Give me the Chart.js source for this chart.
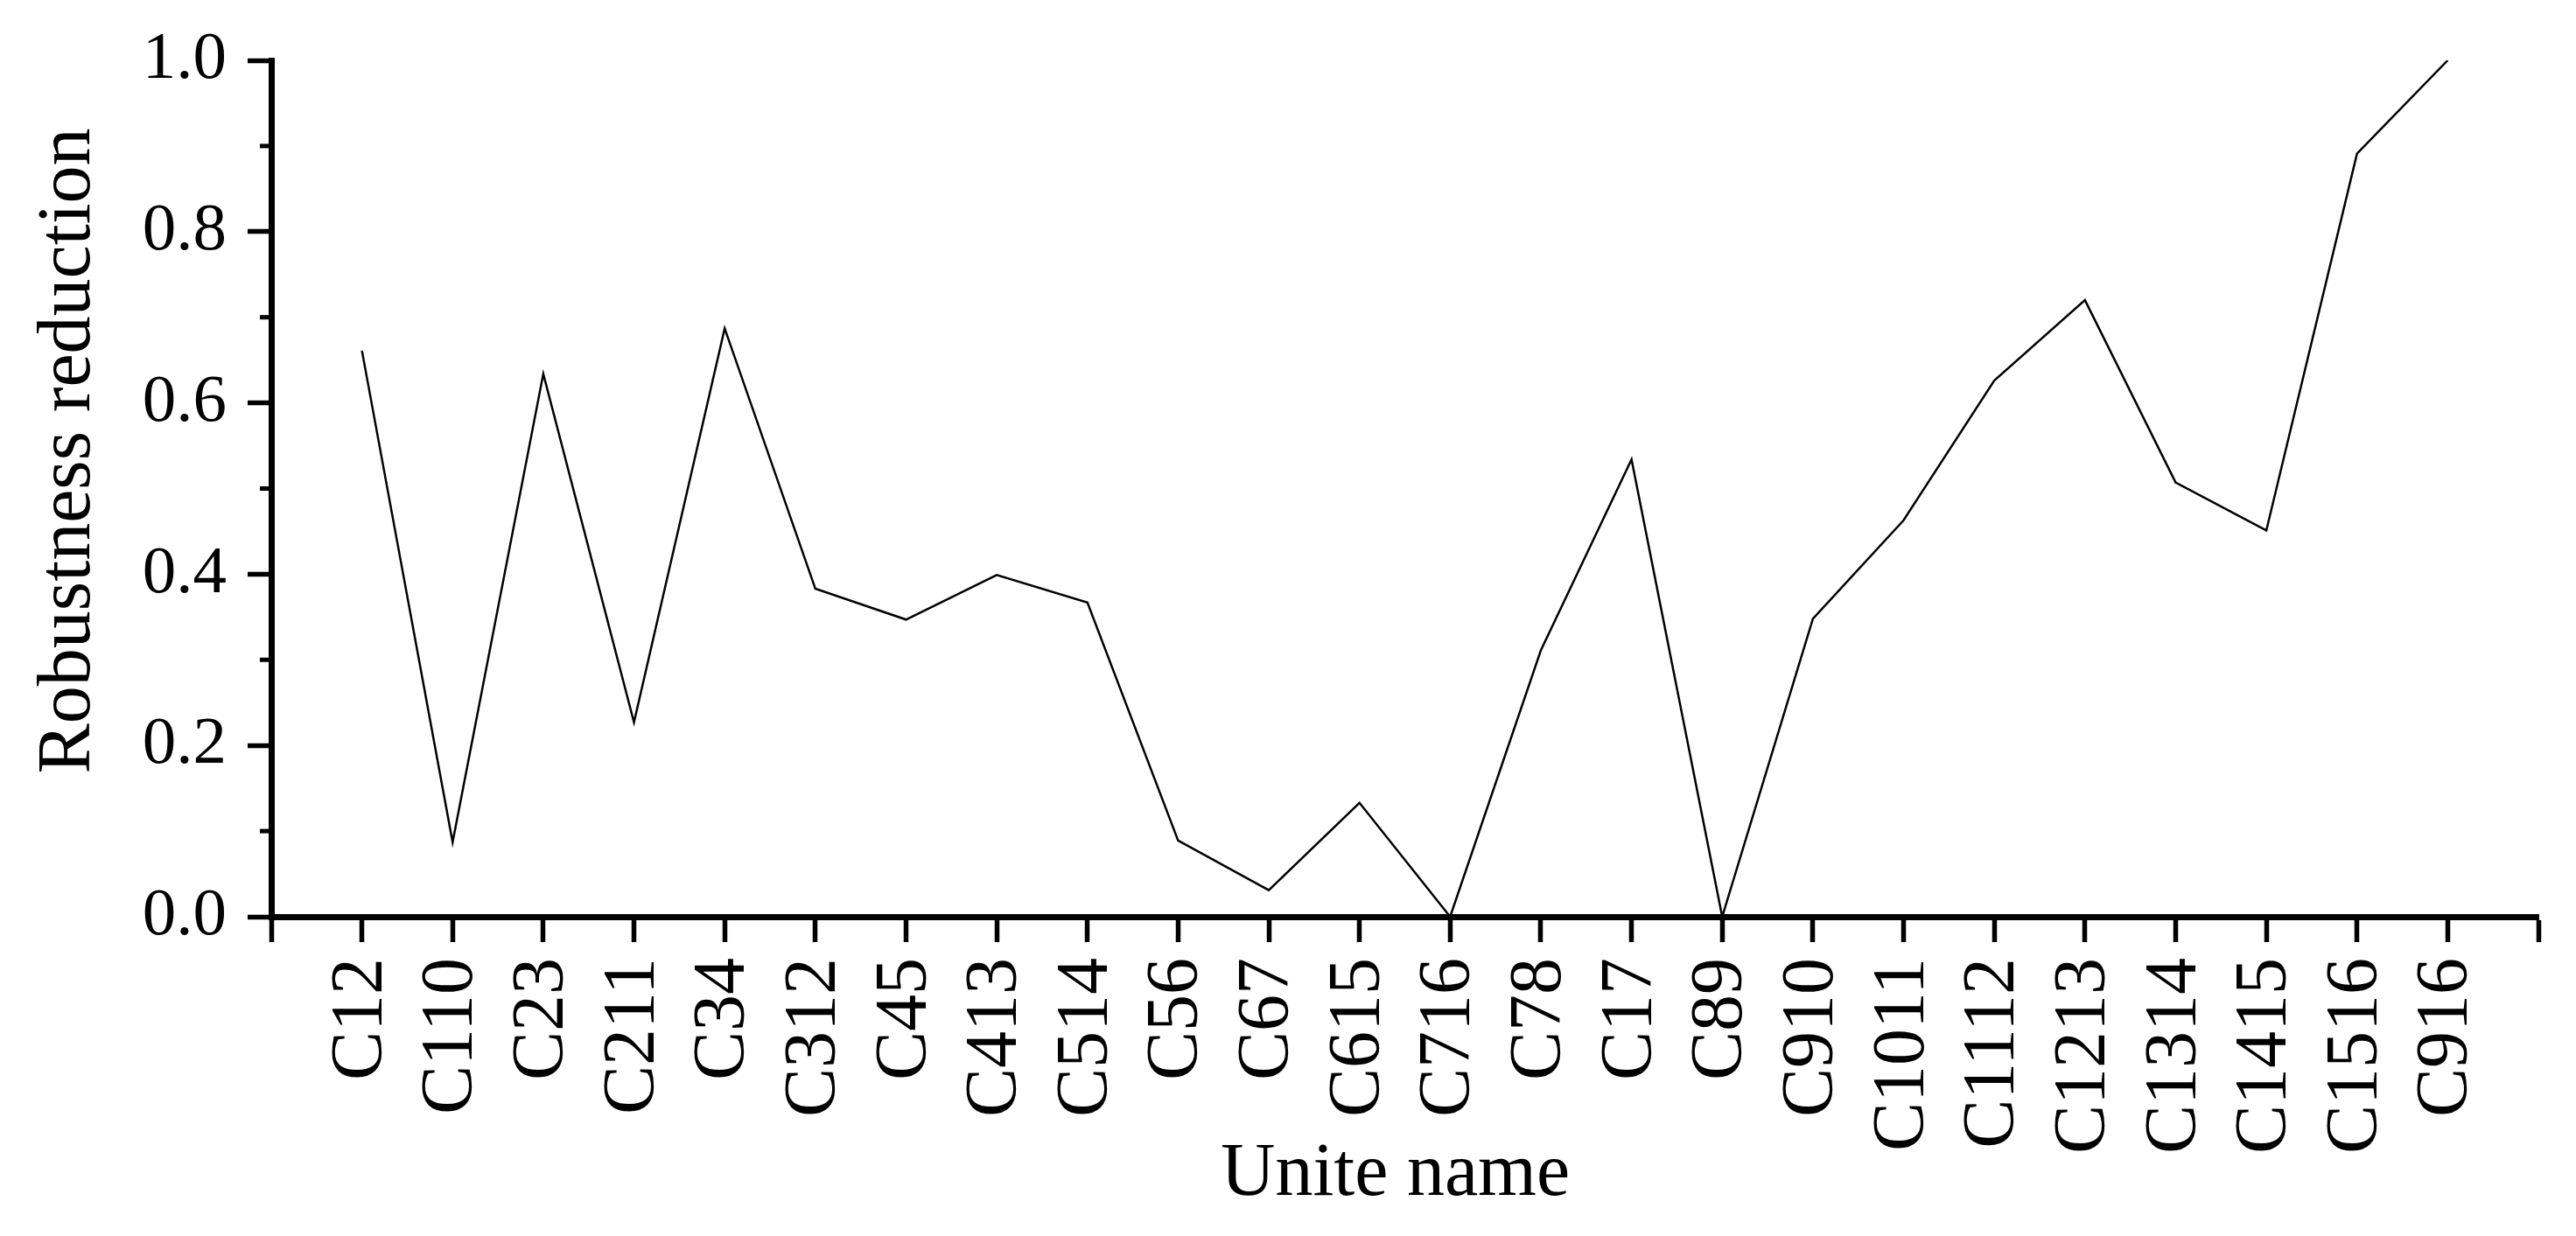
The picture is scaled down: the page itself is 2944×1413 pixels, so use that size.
<!DOCTYPE html>
<html>
<head>
<meta charset="utf-8">
<script src="https://cdn.jsdelivr.net/npm/chart.js@4.4.1/dist/chart.umd.min.js"></script>
<style>
  html, body { margin: 0; padding: 0; background: #fff; }
  #wrap { width: 2944px; height: 1413px; position: relative; }
</style>
</head>
<body>
<div id="wrap"><canvas id="chart"></canvas></div>
<script>
// Robustness reduction per unit
const units = ['C12', 'C110', 'C23', 'C211', 'C34', 'C312', 'C45', 'C413', 'C514', 'C56', 'C67', 'C615',
  'C716', 'C78', 'C17', 'C89', 'C910', 'C1011', 'C1112', 'C1213', 'C1314', 'C1415', 'C1516', 'C916'];
const robustness = [0.661, 0.087, 0.634, 0.227, 0.687, 0.383, 0.347, 0.399, 0.367, 0.089, 0.031, 0.133,
  0.0, 0.311, 0.534, 0.0, 0.348, 0.463, 0.626, 0.720, 0.507, 0.451, 0.891, 1.0];
const yMinorTicks = [0.1, 0.3, 0.5, 0.7, 0.9];

const serif = 'Liberation Serif';

// small ticks between the labelled ones on the y axis
const minorTicks = {
  id: 'minorTicks',
  afterDraw(chart) {
    const y = chart.scales.y;
    const ctx = chart.ctx;
    const x0 = chart.chartArea.left;
    ctx.save();
    ctx.strokeStyle = '#000';
    ctx.lineWidth = 5;
    yMinorTicks.forEach(v => {
      const py = y.getPixelForValue(v);
      ctx.beginPath();
      ctx.moveTo(x0, py);
      ctx.lineTo(x0 - 13, py);
      ctx.stroke();
    });
    ctx.restore();
  }
};

new Chart(document.getElementById('chart'), {
  type: 'line',
  data: {
    datasets: [{
      data: robustness.map((v, i) => ({ x: i + 1, y: v })),
      borderColor: '#000',
      borderWidth: 2.5,
      pointRadius: 0,
      tension: 0,
      fill: false
    }]
  },
  options: {
    responsive: true,
    maintainAspectRatio: false,
    animation: false,
    layout: { padding: { top: 69, right: 43, left: 0, bottom: 0 } },
    plugins: { legend: { display: false }, tooltip: { enabled: false } },
    scales: {
      x: {
        type: 'linear',
        min: 0,
        max: units.length + 1,
        afterFit: s => { s.height = 365; s.paddingLeft = 0; s.paddingRight = 0; },
        border: { display: true, color: '#000', width: 7 },
        grid: { drawOnChartArea: false, drawTicks: true, tickLength: 29, tickWidth: 5.5, tickColor: '#000' },
        ticks: {
          stepSize: 1,
          autoSkip: false,
          maxRotation: 90,
          minRotation: 90,
          padding: 18,
          color: '#000',
          font: { family: serif, size: 84 },
          callback: v => units[v - 1] || ''
        },
        title: {
          display: true,
          text: 'Unite name ',
          color: '#000',
          font: { family: serif, size: 86 },
          padding: { top: 0, bottom: 18 }
        }
      },
      y: {
        min: 0,
        max: 1,
        afterFit: s => { s.width = 310; s.paddingTop = 0; s.paddingBottom = 0; },
        border: { display: true, color: '#000', width: 7 },
        grid: { drawOnChartArea: false, drawTicks: true, tickLength: 27, tickWidth: 5.5, tickColor: '#000' },
        ticks: {
          stepSize: 0.2,
          padding: 24,
          color: '#000',
          font: { family: serif, size: 77 },
          callback: v => v.toFixed(1)
        },
        title: {
          display: true,
          text: '    Robustness reduction',
          color: '#000',
          font: { family: serif, size: 86 },
          padding: { top: 28, bottom: 0 }
        }
      }
    }
  },
  plugins: [minorTicks]
});
</script>
</body>
</html>
